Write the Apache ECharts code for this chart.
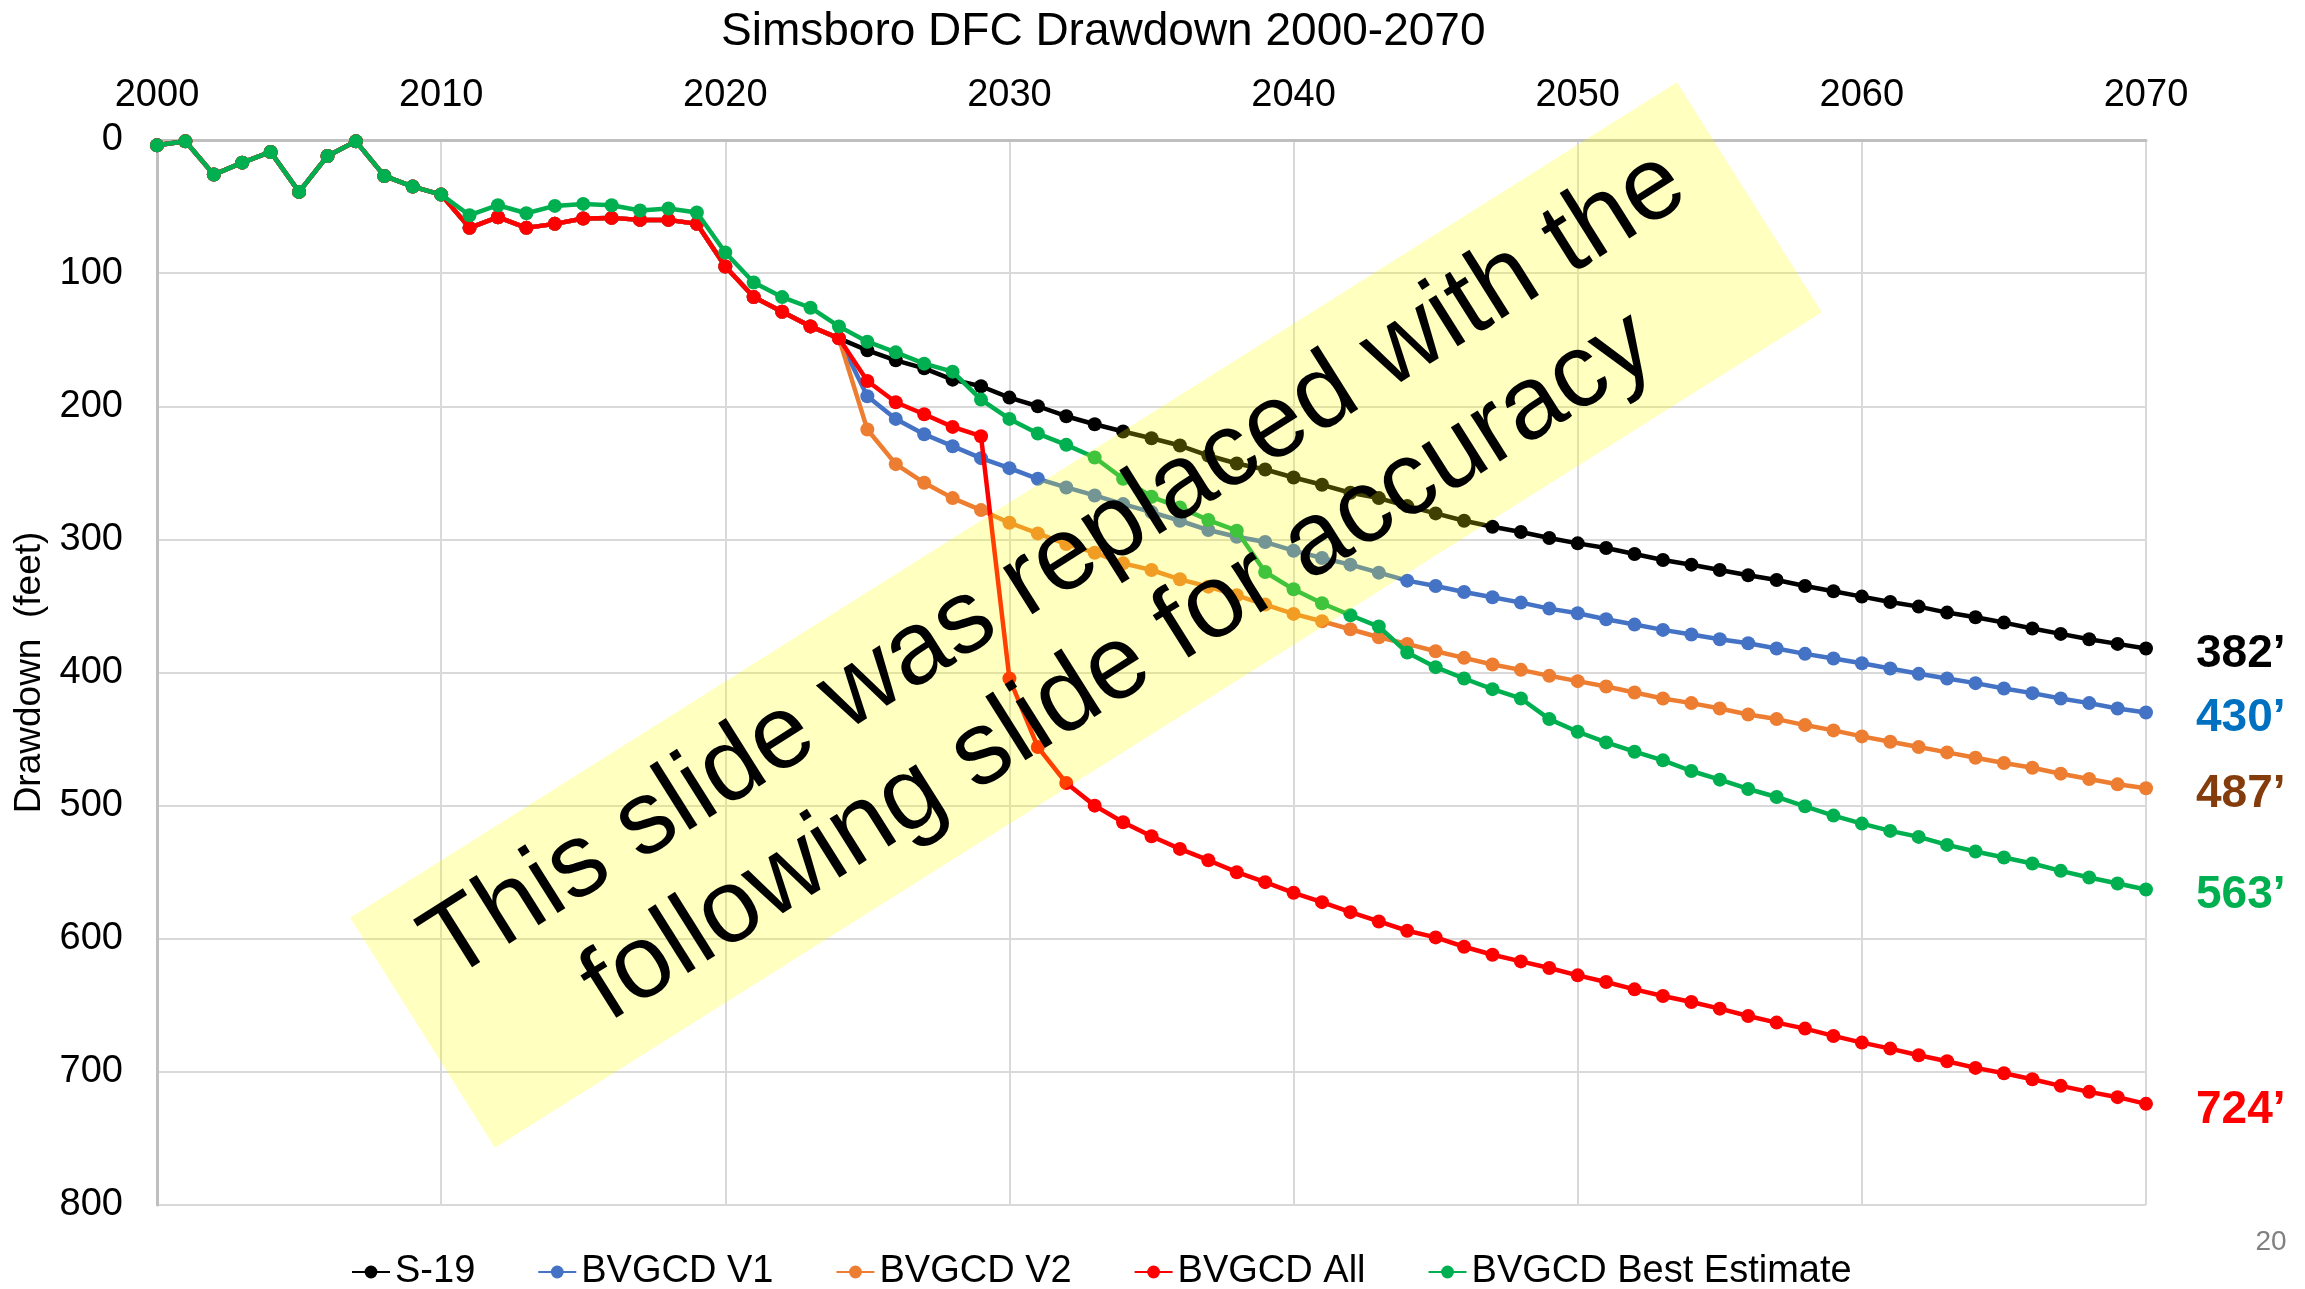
<!DOCTYPE html>
<html>
<head>
<meta charset="utf-8">
<script src="https://cdn.jsdelivr.net/npm/echarts@6/dist/echarts.min.js"></script>
<style>
html,body{margin:0;padding:0;background:#fff;}
#chart{width:2305px;height:1289px;}
</style>
</head>
<body>
<div id="chart"></div>
<script>
const FONT = '"Liberation Sans", Arial, sans-serif';
const years = Array.from({length: 71}, (_, i) => 2000 + i);

// Shared historical record 2000-2010
const histEarly = [4, 1, 26, 17, 9, 39, 12, 1, 27, 35, 41];
// Historical 2011-2024 (S-19 / V1 / V2 / All)
const histMain = [66, 58, 66, 63, 59, 58.5, 60, 60, 63, 95, 118, 129, 140, 149];
// Historical 2011-2024 (Best Estimate)
const histBest = [56.5, 49, 55, 49.5, 48, 49, 53, 51.5, 54.5, 84.5, 107, 118, 126, 140];

// Projections 2025-2070
const s19Future = [158, 165.5, 171.5, 180, 185, 193.5, 200, 207.5, 213.5, 219, 224, 229.5, 237, 243, 247.5,
  253.5, 259, 265, 269, 275, 280.5, 286, 290.5, 294.5, 299, 303, 306.5, 311, 315.5, 319, 323, 327, 330.5, 335, 339,
  343, 347, 350.5, 355, 358.5, 362.5, 367, 371, 375, 378.5, 382];
const v1Future = [192.5, 209.5, 221, 230, 239, 246.5, 254.5, 261, 267, 273.5, 279.5, 286, 293, 298, 302,
  308.5, 314, 319, 325, 331, 335, 339.5, 343.5, 347.5, 352, 355.5, 360, 364, 368, 371.5, 375, 378, 382, 386, 389.5,
  393, 397, 401, 404.5, 408, 412, 415.5, 419.5, 423, 427, 430];
const v2Future = [217.5, 243.5, 257.5, 269, 278, 287.5, 295.5, 303.5, 310, 318, 323, 330, 335.5, 342, 349,
  356, 361.5, 367.5, 373.5, 378.5, 384, 389, 394, 398, 402.5, 406.5, 410.5, 415, 419.5, 423, 427, 431.5, 435, 439.5, 443.5,
  448, 452, 456, 460, 464, 468, 471.5, 476, 480, 484, 487];
const allFuture = [181, 197, 206, 215.5, 222.5, 404.5, 456, 483, 500, 512.5, 523, 532.5, 541, 550, 557.5,
  565.5, 572.5, 580, 587, 594, 599, 606, 612, 617, 622, 627.5, 632.5, 638, 643, 647.5, 652.5, 658, 663, 667.5, 673,
  678, 682.5, 687.5, 692, 697, 701, 705.5, 710.5, 715, 719, 724];
const bestFuture = [151.5, 159.5, 168, 174, 195, 209.5, 220.5, 229, 238.5, 254.5, 268, 276, 285.5, 293.5, 324.5,
  337.5, 348, 357, 365.5, 385, 396, 404.5, 412.5, 419.5, 435, 444.5, 452.5, 459.5, 466, 474, 480.5, 487.5, 493.5, 500.5, 507.5,
  513.5, 519, 523.5, 529.5, 534.5, 539, 543.5, 549, 554, 558.5, 563];

const seriesNames = ['S-19', 'BVGCD V1', 'BVGCD V2', 'BVGCD All', 'BVGCD Best Estimate'];
const lineColors = ['#000000', '#4472C4', '#ED7D31', '#FF0000', '#00B050'];
const endLabelColors = ['#000000', '#0070C0', '#843C0C', '#FF0000', '#00B050'];

const yTicks = [0, 100, 200, 300, 400, 500, 600, 700, 800];
const xTicks = [2000, 2010, 2020, 2030, 2040, 2050, 2060, 2070];

const seriesValues = [
  histEarly.concat(histMain, s19Future),
  histEarly.concat(histMain, v1Future),
  histEarly.concat(histMain, v2Future),
  histEarly.concat(histMain, allFuture),
  histEarly.concat(histBest, bestFuture)
];

const chart = echarts.init(document.getElementById('chart'), null, {renderer: 'canvas'});

const series = seriesNames.map((name, i) => ({
  name: name,
  type: 'line',
  data: years.map((y, k) => [y, seriesValues[i][k]]),
  symbol: 'circle',
  symbolSize: 14,
  showSymbol: true,
  lineStyle: {color: lineColors[i], width: 4.5},
  itemStyle: {color: lineColors[i]},
  emphasis: {disabled: true},
  animation: false,
  z: 2 + i,
  endLabel: {
    show: true,
    formatter: p => Math.round(p.value[1]) + '\u2019',
    color: endLabelColors[i],
    fontFamily: FONT,
    fontWeight: 'bold',
    fontSize: 46,
    distance: 50,
    offset: [0, 6]
  }
}));

const option = {
  backgroundColor: '#ffffff',
  animation: false,
  title: {
    text: 'Simsboro DFC Drawdown 2000-2070',
    left: 716,
    top: 4,
    textStyle: {fontFamily: FONT, fontSize: 46, fontWeight: 'normal', color: '#000'}
  },
  legend: {
    data: seriesNames,
    left: 346,
    top: 1248,
    itemWidth: 38,
    itemHeight: 16,
    itemGap: 62,
    textStyle: {fontFamily: FONT, fontSize: 38, color: '#000'}
  },
  grid: {left: 157, right: 159, top: 140, bottom: 84, containLabel: false, outerBoundsMode: 'none'},
  xAxis: {
    type: 'value',
    position: 'top',
    min: xTicks[0],
    max: xTicks[xTicks.length - 1],
    interval: 10,
    axisLine: {show: true, lineStyle: {color: '#BFBFBF', width: 3}},
    axisTick: {show: false},
    axisLabel: {
      formatter: v => String(v),
      fontFamily: FONT, fontSize: 38, color: '#000', margin: 25
    },
    splitLine: {show: true, lineStyle: {color: '#D9D9D9', width: 2}}
  },
  yAxis: {
    type: 'value',
    inverse: true,
    min: yTicks[0],
    max: yTicks[yTicks.length - 1],
    interval: 100,
    name: 'Drawdown  (feet)',
    nameLocation: 'middle',
    nameGap: 106,
    nameTextStyle: {fontFamily: FONT, fontSize: 37, color: '#000'},
    axisLine: {show: true, lineStyle: {color: '#BFBFBF', width: 3}},
    axisTick: {show: false},
    axisLabel: {fontFamily: FONT, fontSize: 38, color: '#000', margin: 34},
    splitLine: {show: true, lineStyle: {color: '#D9D9D9', width: 2}}
  },
  series: series,
  graphic: [
    {
      type: 'group',
      x: 1086,
      y: 615,
      rotation: 32.2 * Math.PI / 180,
      z: 100,
      children: [
        {
          type: 'rect',
          z: 100,
          shape: {x: -784, y: -136, width: 1568, height: 272},
          style: {fill: 'rgba(255,255,0,0.25)'}
        },
        {
          type: 'text',
          z: 101,
          x: 0,
          y: -58,
          style: {
            text: 'This slide was replaced with the',
            font: '104px ' + FONT,
            fill: '#000',
            align: 'center',
            verticalAlign: 'middle'
          }
        },
        {
          type: 'text',
          z: 101,
          x: 0,
          y: 62,
          style: {
            text: 'following slide for accuracy',
            font: '104px ' + FONT,
            fill: '#000',
            align: 'center',
            verticalAlign: 'middle'
          }
        }
      ]
    },
    {
      type: 'text',
      x: 2271,
      y: 1242,
      z: 100,
      style: {
        text: '20',
        font: '28px ' + FONT,
        fill: '#808080',
        align: 'center',
        verticalAlign: 'middle'
      }
    }
  ]
};

chart.setOption(option);
</script>
</body>
</html>
